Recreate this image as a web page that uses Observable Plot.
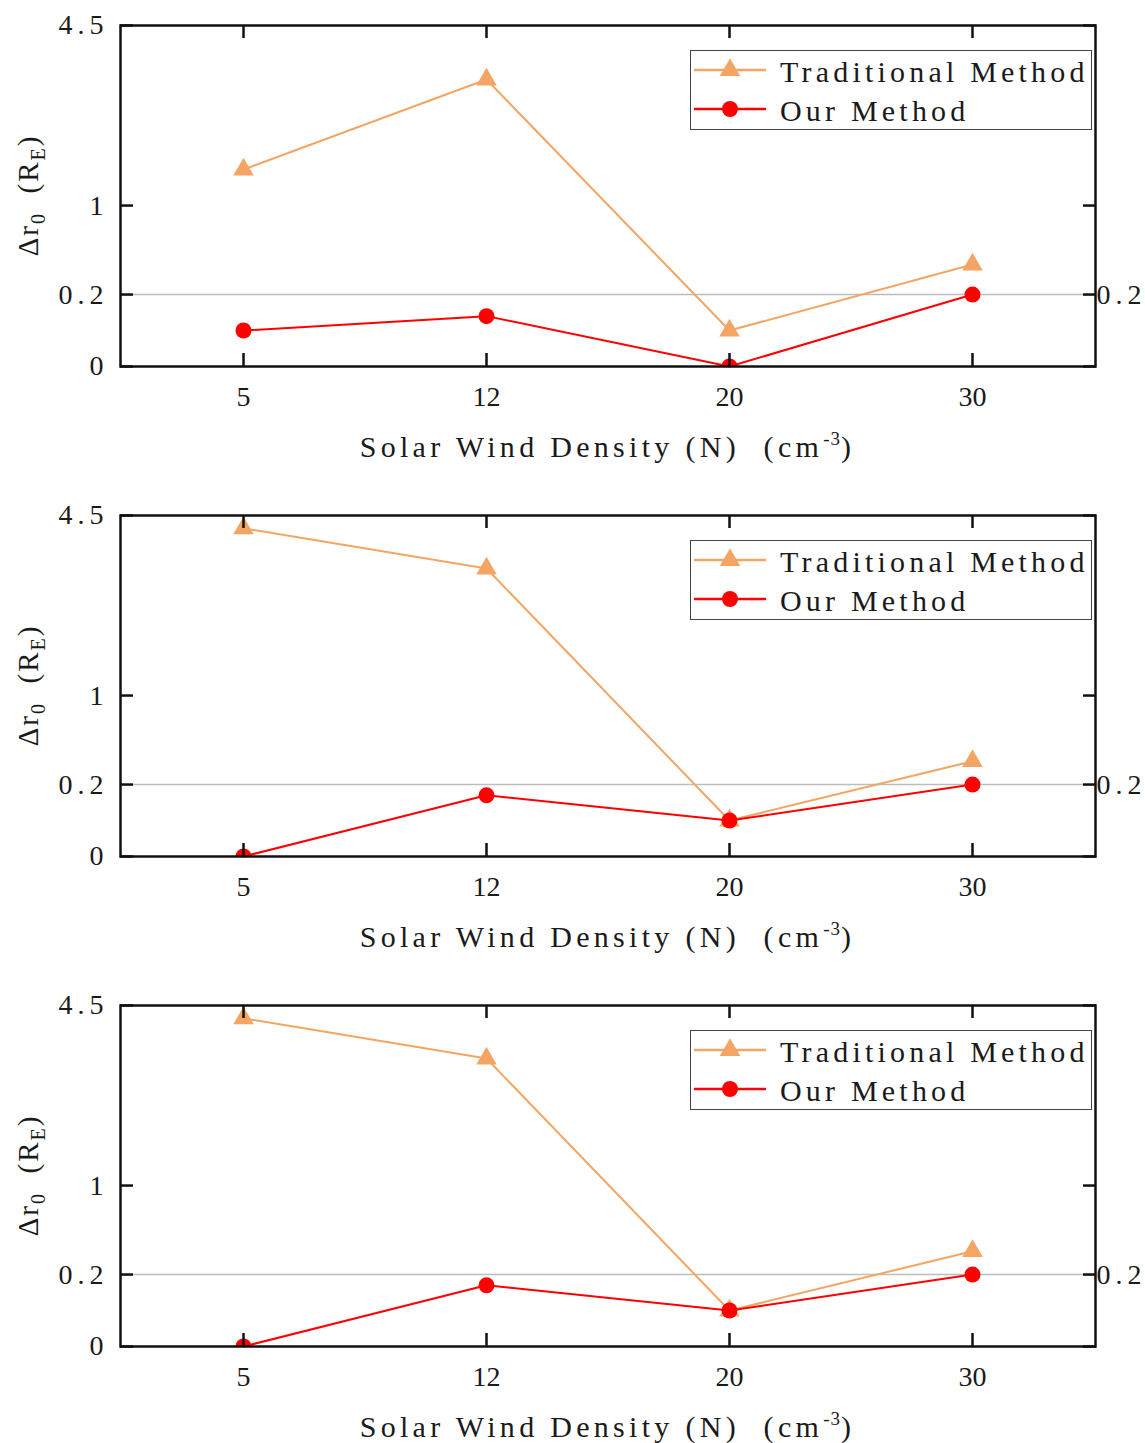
<!DOCTYPE html>
<html>
<head>
<meta charset="utf-8">
<script src="https://cdn.jsdelivr.net/npm/d3@7"></script>
<script src="https://cdn.jsdelivr.net/npm/@observablehq/plot@0.6"></script>
<style>
  html, body { margin: 0; padding: 0; background: #fff; }
  #root { width: 1145px; height: 1443px; overflow: hidden; background: #fff; }
  .panel { position: relative; width: 1145px; height: 490px; }
  .panel svg { display: block; }
  .legend {
    position: absolute; left: 690px; top: 50px; width: 400px; height: 78px;
    border: 1.6px solid #444; background: #fff;
    font-family: "Liberation Serif", serif; font-size: 30px; letter-spacing: 4.2px; color: #1a1a1a;
  }
  .legend .row { position: absolute; left: 0; height: 40px; width: 100%; }
  .legend .row svg { position: absolute; left: 2px; top: 0; }
  .legend .row span { position: absolute; left: 89px; top: 2px; line-height: 36px; white-space: pre; }
</style>
</head>
<body>
<div id="root"></div>
<script>
// ---------- data ----------
const densities = [5, 12, 20, 30];            // x categories (cm^-3)
const yTickValues = [0, 0.2, 1, 4.5];         // y axis breaks / ticks
const seriesNames = ["Traditional Method", "Our Method"];

const traditional1 = [1.70, 3.45, 0.10, 0.47];
const ours1        = [0.10, 0.14, 0.00, 0.20];
const traditional2 = [4.25, 3.47, 0.10, 0.41];
const ours2        = [0.00, 0.17, 0.10, 0.20];
const traditional3 = [4.25, 3.47, 0.10, 0.41];
const ours3        = [0.00, 0.17, 0.10, 0.20];

// ---------- style ----------
const tradColor = "#F4A564";
const oursColor = "#FF0000";
const FONT = "'Liberation Serif', serif";
const W = 1145, H = 490;
const mt = 25, mb = 124, ml = 120, mr = 50;
// fractional heights of the break points within the frame (piecewise axis)
const breakFrac = [0, 0.211, 0.472, 1];

function makePanel(trad, ours) {
  const rows = densities.map((n, i) => ({n, trad: trad[i], ours: ours[i]}));
  const bottom = H - mb, frameH = H - mt - mb;
  const yRange = breakFrac.map(f => bottom - f * frameH);

  const chart = Plot.plot({
    width: W, height: H,
    marginTop: mt, marginBottom: mb, marginLeft: ml, marginRight: mr,
    style: {fontFamily: FONT, fontSize: "28px", color: "#1a1a1a", background: "#fff", overflow: "visible"},
    x: {type: "point", domain: densities, padding: 0.5},
    y: {type: "linear", domain: yTickValues, range: yRange},
    marks: [
      Plot.ruleY([0.2], {stroke: "#bdbdbd", strokeWidth: 1.6}),
      Plot.line(rows, {x: "n", y: "trad", stroke: tradColor, strokeWidth: 2}),
      Plot.dot(rows, {x: "n", y: "trad", symbol: "triangle", fill: tradColor, r: 7.6, clip: true}),
      Plot.line(rows, {x: "n", y: "ours", stroke: oursColor, strokeWidth: 2}),
      Plot.dot(rows, {x: "n", y: "ours", symbol: "circle", fill: oursColor, r: 8, clip: true}),
      Plot.frame({stroke: "#111", strokeWidth: 2.5}),
      // inward ticks
      Plot.axisX({anchor: "bottom", tickSize: -13, strokeWidth: 2.5, stroke: "#111", fill: "none", label: null}),
      Plot.axisX({anchor: "top", tickSize: -12, strokeWidth: 2.5, stroke: "#111", fill: "none", label: null}),
      Plot.axisY({anchor: "left", ticks: yTickValues, tickSize: -13, strokeWidth: 2.5, stroke: "#111", fill: "none", label: null}),
      Plot.axisY({anchor: "right", ticks: yTickValues, tickSize: -13, strokeWidth: 2.5, stroke: "#111", fill: "none", label: null}),
      // tick labels
      Plot.axisX({anchor: "bottom", tickSize: 0, tickPadding: 20, label: null}),
      Plot.axisY({anchor: "left", ticks: yTickValues, tickSize: 0, tickPadding: 12, label: null, tickFormat: d => String(d)}),
      Plot.axisY({anchor: "right", ticks: [0.2], tickSize: 0, tickPadding: 1, label: null, tickFormat: d => String(d)})
    ]
  });

  const svg = d3.select(chart);
  svg.selectAll("g[aria-label='y-axis tick label'] text").attr("letter-spacing", "5");

  // y-axis title: Δr0 (RE)
  const cy = mt + frameH / 2;
  const yt = svg.append("text")
    .attr("transform", `translate(38,${cy}) rotate(-90)`)
    .attr("text-anchor", "middle")
    .attr("font-family", FONT)
    .attr("font-size", 29)
    .attr("letter-spacing", 2)
    .attr("fill", "#1a1a1a")
    .style("white-space", "pre");
  yt.append("tspan").text("Δr");
  yt.append("tspan").attr("font-size", 20).attr("dy", 7).text("0");
  yt.append("tspan").attr("dy", -7).text("  (R");
  yt.append("tspan").attr("font-size", 20).attr("dy", 7).text("E");
  yt.append("tspan").attr("dy", -7).text(")");

  // x-axis title
  const cx = ml + (W - ml - mr) / 2;
  const xt = svg.append("text")
    .attr("x", cx).attr("y", bottom + 91)
    .attr("text-anchor", "middle")
    .attr("font-family", FONT)
    .attr("font-size", 30)
    .attr("letter-spacing", 4.3)
    .attr("fill", "#1a1a1a")
    .style("white-space", "pre");
  xt.append("tspan").text("Solar Wind Density (N)  (cm");
  xt.append("tspan").attr("font-size", 19).attr("dy", -12).attr("letter-spacing", 1).text("-3");
  xt.append("tspan").attr("dy", 12).text(")");

  const panel = document.createElement("div");
  panel.className = "panel";
  panel.appendChild(chart);

  // legend
  const lg = document.createElement("div");
  lg.className = "legend";
  const legendItems = [
    {name: seriesNames[0], color: tradColor, sym: "triangle"},
    {name: seriesNames[1], color: oursColor, sym: "circle"}
  ];
  legendItems.forEach((it, i) => {
    const row = document.createElement("div");
    row.className = "row";
    row.style.top = (i * 39 + 1) + "px";
    const s = d3.create("svg").attr("width", 76).attr("height", 38);
    s.append("line").attr("x1", 1).attr("x2", 73).attr("y1", 18).attr("y2", 18)
      .attr("stroke", it.color).attr("stroke-width", 2.5);
    if (it.sym === "triangle") {
      s.append("path").attr("transform", "translate(37,18)")
        .attr("d", d3.symbol(d3.symbolTriangle, 7.6 * 7.6 * Math.PI)()).attr("fill", it.color);
    } else {
      s.append("circle").attr("cx", 37).attr("cy", 18).attr("r", 8).attr("fill", it.color);
    }
    row.appendChild(s.node());
    const t = document.createElement("span");
    t.textContent = it.name;
    row.appendChild(t);
    lg.appendChild(row);
  });
  panel.appendChild(lg);
  return panel;
}

const root = document.getElementById("root");
root.appendChild(makePanel(traditional1, ours1));
root.appendChild(makePanel(traditional2, ours2));
root.appendChild(makePanel(traditional3, ours3));
</script>
</body>
</html>
